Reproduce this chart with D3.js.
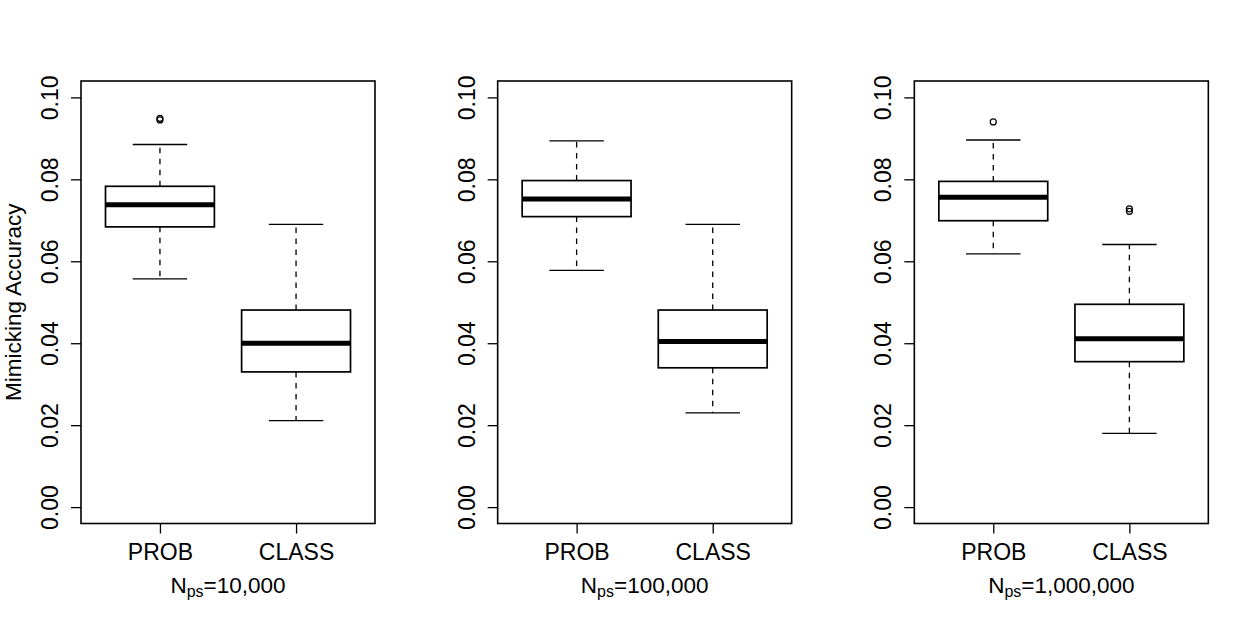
<!DOCTYPE html>
<html>
<head>
<meta charset="utf-8">
<script src="https://cdn.jsdelivr.net/npm/d3@7"></script>
<style>
  html, body { margin: 0; padding: 0; background: #fff; }
  svg { display: block; }
  text { font-family: "Liberation Sans", Arial, Helvetica, sans-serif; fill: #000; }
</style>
</head>
<body>
<svg id="chart" width="1250" height="625"></svg>
<script>
// ---- data ----
const panelSizes = ["10,000", "100,000", "1,000,000"];
const categories = ["PROB", "CLASS"];
const yTicks = [0.00, 0.02, 0.04, 0.06, 0.08, 0.10];
const yTickLabels = ["0.00", "0.02", "0.04", "0.06", "0.08", "0.10"];
const yLabel = "Mimicking Accuracy";

// per panel: [PROB, CLASS]
const whiskerLow  = [[0.0557, 0.0211], [0.0578, 0.0230], [0.0618, 0.0180]];
const q1          = [[0.0684, 0.0330], [0.0709, 0.0340], [0.0699, 0.0355]];
const medians     = [[0.0738, 0.0400], [0.0752, 0.0404], [0.0756, 0.0411]];
const q3          = [[0.0783, 0.0481], [0.0797, 0.0481], [0.0795, 0.0495]];
const whiskerHigh = [[0.0885, 0.0690], [0.0894, 0.0690], [0.0896, 0.0641]];
const outliers    = [[[0.0949, 0.0945], []], [[], []], [[0.0940], [0.0728, 0.0722]]];

// ---- layout ----
const svg = d3.select("#chart");
const W = 1250, panelW = W / 3;
const plotLeft = 81, plotWidth = 294, plotTop = 81, plotBottom = 523.5;
const FONT = '"Liberation Sans", Arial, Helvetica, sans-serif';

const y = d3.scaleLinear().domain([-0.004, 0.104]).range([plotBottom, plotTop]);
const x = d3.scaleLinear().domain([0.42, 2.58]).range([0, plotWidth]);
const boxHalf = 0.4, capHalf = 0.2;

panelSizes.forEach((sz, p) => {
  const g = svg.append("g").attr("transform", `translate(${p * panelW + plotLeft},0)`);

  categories.forEach((cat, i) => {
    const cx = x(i + 1);
    // dashed whiskers
    g.append("line").attr("x1", cx).attr("x2", cx)
      .attr("y1", y(q3[p][i])).attr("y2", y(whiskerHigh[p][i]))
      .attr("stroke", "#000").attr("stroke-width", 1.3).attr("stroke-dasharray", "5.5,5.5");
    g.append("line").attr("x1", cx).attr("x2", cx)
      .attr("y1", y(q1[p][i])).attr("y2", y(whiskerLow[p][i]))
      .attr("stroke", "#000").attr("stroke-width", 1.3).attr("stroke-dasharray", "5.5,5.5");
    // caps
    [whiskerHigh[p][i], whiskerLow[p][i]].forEach(v => {
      g.append("line").attr("x1", x(i + 1 - capHalf)).attr("x2", x(i + 1 + capHalf))
        .attr("y1", y(v)).attr("y2", y(v))
        .attr("stroke", "#000").attr("stroke-width", 1.3);
    });
    // box
    g.append("rect")
      .attr("x", x(i + 1 - boxHalf)).attr("width", x(i + 1 + boxHalf) - x(i + 1 - boxHalf))
      .attr("y", y(q3[p][i])).attr("height", y(q1[p][i]) - y(q3[p][i]))
      .attr("fill", "#fff").attr("stroke", "#000").attr("stroke-width", 1.7);
    // median
    g.append("line").attr("x1", x(i + 1 - boxHalf)).attr("x2", x(i + 1 + boxHalf))
      .attr("y1", y(medians[p][i])).attr("y2", y(medians[p][i]))
      .attr("stroke", "#000").attr("stroke-width", 5);
    // outliers
    outliers[p][i].forEach(v => {
      g.append("circle").attr("cx", cx).attr("cy", y(v)).attr("r", 3)
        .attr("fill", "none").attr("stroke", "#000").attr("stroke-width", 1.2);
    });
  });

  // frame
  g.append("rect").attr("x", 0).attr("y", plotTop).attr("width", plotWidth)
    .attr("height", plotBottom - plotTop)
    .attr("fill", "none").attr("stroke", "#000").attr("stroke-width", 1.6);

  // y axis
  const ya = g.append("g").call(
    d3.axisLeft(y).tickValues(yTicks).tickSize(10).tickFormat((d, k) => yTickLabels[k])
  );
  ya.select(".domain").remove();
  ya.selectAll(".tick line").attr("stroke-width", 1.3);
  ya.selectAll(".tick text")
    .attr("transform", "rotate(-90)")
    .attr("x", 0).attr("y", -23).attr("dy", 0)
    .attr("text-anchor", "middle")
    .style("font-size", "23px")
    .style("font-family", FONT);

  // x axis
  const xa = g.append("g").attr("transform", `translate(0,${plotBottom})`).call(
    d3.axisBottom(x).tickValues([1, 2]).tickSize(10).tickFormat((d, k) => categories[k])
  );
  xa.select(".domain").remove();
  xa.selectAll(".tick line").attr("stroke-width", 1.3);
  xa.selectAll(".tick text")
    .attr("y", 36.5).attr("dy", 0)
    .style("font-size", "23px")
    .style("font-family", FONT);

  // x title
  const t = g.append("text").attr("x", plotWidth / 2).attr("y", 593)
    .attr("text-anchor", "middle").style("font-size", "22.5px");
  t.append("tspan").text("N");
  t.append("tspan").attr("dy", 4).style("font-size", "16px").text("ps");
  t.append("tspan").attr("dy", -4).text("=" + sz);

  if (p === 0) {
    svg.append("text")
      .attr("transform", `translate(21,${(plotTop + plotBottom) / 2}) rotate(-90)`)
      .attr("text-anchor", "middle").style("font-size", "22.5px").text(yLabel);
  }
});
</script>
</body>
</html>
